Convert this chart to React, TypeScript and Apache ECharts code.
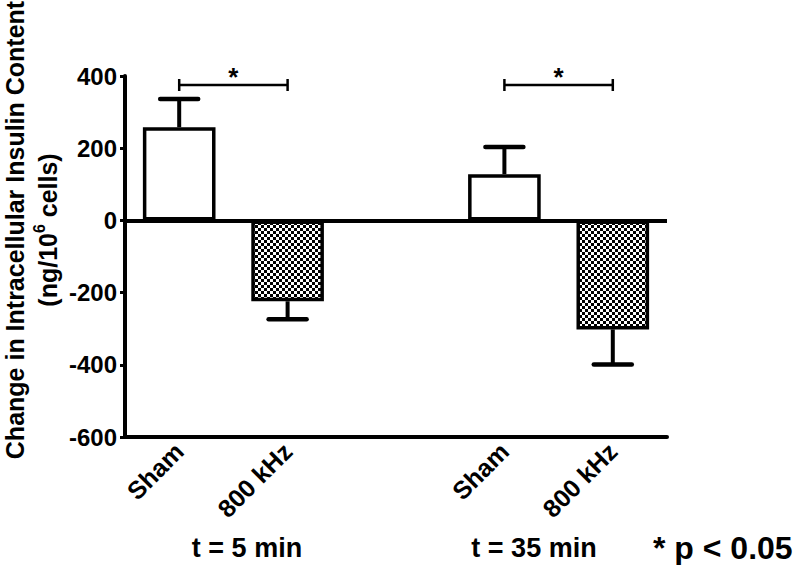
import React, { useEffect, useRef } from "react";
import * as echarts from "echarts";

const categories = ["Sham", "800 kHz", "", "Sham", "800 kHz"];
const means = [258, -224, null, 128, -302];
const errorEnds = [336, -274, null, 203, -399];
const sigPairs = [
  [0, 1],
  [3, 4],
];
const sigLevel = 375;
const yMin = -600;
const yMax = 400;
const yInterval = 200;
const groupLabels = ["t = 5 min", "t = 35 min"];
const noteText = "* p < 0.05";
const yTitle = "Change in Intracellular Insulin Content";

const FONT = "'Liberation Sans', Arial, sans-serif";

function makePattern() {
  const c = document.createElement("canvas");
  c.width = 6;
  c.height = 6;
  const ctx = c.getContext("2d")!;
  ctx.fillStyle = "#fff";
  ctx.fillRect(0, 0, 6, 6);
  ctx.fillStyle = "#000";
  ctx.fillRect(0, 0, 3, 3);
  ctx.fillRect(3, 3, 3, 3);
  return { image: c.toDataURL(), repeat: "repeat", imageWidth: 6, imageHeight: 6 } as any;
}

export default function App() {
  const ref = useRef<HTMLDivElement>(null);
  useEffect(() => {
    const chart = echarts.init(ref.current!, null, { renderer: "svg" });
    const pattern = makePattern();
    const barData = means.map((m, i) =>
      m == null
        ? "-"
        : {
            value: m,
            itemStyle: {
              color: categories[i] === "800 kHz" ? pattern : "#fff",
            },
          }
    );
    const errData = means
      .map((m, i) => (m == null ? null : [i, m, errorEnds[i]]))
      .filter((d) => d != null);
    const sigData = sigPairs.map((p) => [p[0], p[1], sigLevel]);

    chart.setOption({
      animation: false,
      backgroundColor: "#fff",
      grid: { left: 125, right: 133, top: 76, bottom: 128 },
      xAxis: {
        type: "category",
        data: categories,
        axisLine: { onZero: false, lineStyle: { color: "#000", width: 4 } },
        axisTick: {
          alignWithLabel: true,
          length: 5,
          interval: (i: number) => i !== 2,
          lineStyle: { color: "#000", width: 3 },
        },
        axisLabel: {
          interval: 0,
          rotate: 45,
          margin: 10,
          color: "#000",
          fontSize: 25,
          fontWeight: "bold",
          fontFamily: FONT,
        },
      },
      yAxis: {
        type: "value",
        min: yMin,
        max: yMax,
        interval: yInterval,
        splitLine: { show: false },
        axisLine: { show: true, lineStyle: { color: "#000", width: 4 } },
        axisTick: { show: true, length: 5, lineStyle: { color: "#000", width: 3 } },
        axisLabel: {
          margin: 8,
          color: "#000",
          fontSize: 24,
          fontWeight: "bold",
          fontFamily: FONT,
        },
      },
      series: [
        {
          type: "bar",
          data: barData,
          barWidth: "67%",
          itemStyle: { borderColor: "#000", borderWidth: 3.5 },
          z: 3,
          markLine: {
            silent: true,
            symbol: "none",
            label: { show: false },
            lineStyle: { color: "#000", width: 4, type: "solid" },
            data: [{ yAxis: 0 }],
          },
        },
        {
          type: "custom",
          data: errData,
          z: 2,
          renderItem: (params: any, api: any) => {
            const i = api.value(0);
            const p0 = api.coord([i, api.value(1)]);
            const p1 = api.coord([i, api.value(2)]);
            return {
              type: "group",
              children: [
                {
                  type: "line",
                  shape: { x1: p0[0], y1: p0[1], x2: p1[0], y2: p1[1] },
                  style: { stroke: "#000", lineWidth: 4 },
                },
                {
                  type: "line",
                  shape: { x1: p1[0] - 19, y1: p1[1], x2: p1[0] + 19, y2: p1[1] },
                  style: { stroke: "#000", lineWidth: 4.5, lineCap: "round" },
                },
              ],
            };
          },
        },
        {
          type: "custom",
          data: sigData,
          z: 4,
          renderItem: (params: any, api: any) => {
            const a = api.coord([api.value(0), api.value(2)]);
            const b = api.coord([api.value(1), api.value(2)]);
            return {
              type: "group",
              children: [
                {
                  type: "line",
                  shape: { x1: a[0], y1: a[1], x2: b[0], y2: b[1] },
                  style: { stroke: "#000", lineWidth: 2.5 },
                },
                {
                  type: "line",
                  shape: { x1: a[0], y1: a[1] - 6, x2: a[0], y2: a[1] + 6 },
                  style: { stroke: "#000", lineWidth: 2.5 },
                },
                {
                  type: "line",
                  shape: { x1: b[0], y1: b[1] - 6, x2: b[0], y2: b[1] + 6 },
                  style: { stroke: "#000", lineWidth: 2.5 },
                },
                {
                  type: "text",
                  x: (a[0] + b[0]) / 2,
                  y: a[1] - 8,
                  style: {
                    text: "*",
                    align: "center",
                    verticalAlign: "middle",
                    font: `bold 26px ${FONT}`,
                    fill: "#000",
                  },
                },
              ],
            };
          },
        },
      ],
      graphic: [
        {
          type: "text",
          x: 31,
          y: 230,
          rotation: Math.PI / 2,
          style: {
            text: `{a|${yTitle}}\n{a|(ng/10}{s|6}{a| cells)}`,
            align: "center",
            verticalAlign: "middle",
            fill: "#000",
            rich: {
              a: { fontSize: 25, fontWeight: "bold", fontFamily: FONT, lineHeight: 33, fill: "#000" },
              s: { fontSize: 16, fontWeight: "bold", fontFamily: FONT, lineHeight: 33, verticalAlign: "top", fill: "#000" },
            },
          },
        },
        {
          type: "text",
          x: 247,
          y: 548,
          style: {
            text: groupLabels[0],
            align: "center",
            verticalAlign: "middle",
            font: `bold 27px ${FONT}`,
            fill: "#000",
          },
        },
        {
          type: "text",
          x: 534,
          y: 548,
          style: {
            text: groupLabels[1],
            align: "center",
            verticalAlign: "middle",
            font: `bold 27px ${FONT}`,
            fill: "#000",
          },
        },
        {
          type: "text",
          x: 653,
          y: 548,
          style: {
            text: noteText,
            align: "left",
            verticalAlign: "middle",
            font: `bold 32px ${FONT}`,
            fill: "#000",
          },
        },
      ],
    });
    return () => chart.dispose();
  }, []);
  return (
    <div
      ref={ref}
      style={{ position: "absolute", left: 0, top: 0, width: 800, height: 565 }}
    />
  );
}
